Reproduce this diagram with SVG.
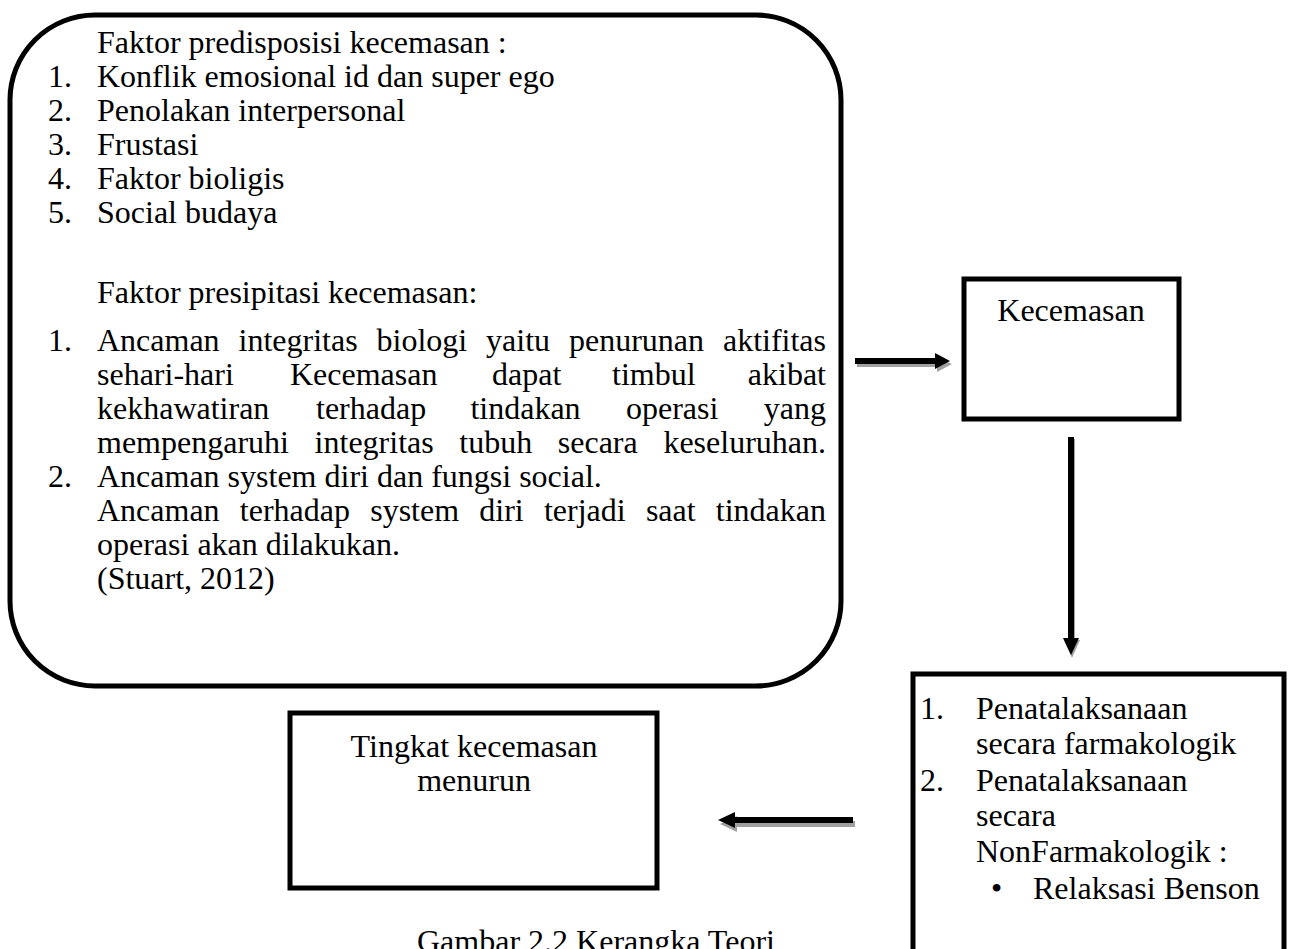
<svg xmlns="http://www.w3.org/2000/svg" width="1290" height="949" viewBox="0 0 1290 949">
<style>
text{font-family:"Liberation Serif","Times New Roman",serif;font-size:32px;fill:#000}
.box{fill:#fff;stroke:#000;stroke-width:5}
.shaft{stroke:#000;stroke-width:6}
.shadow{stroke:#a0a0a0;stroke-width:6}
.c{text-anchor:middle}
.e{text-anchor:end}
</style>
<rect width="1290" height="949" fill="#fff"/>
<g id="faktor">
<rect class="box" x="10" y="15" width="831" height="671" rx="85" ry="85"/>
<text x="97" y="53">Faktor predisposisi kecemasan :</text>
<text x="48" y="87">1.</text><text x="97" y="87">Konflik emosional id dan super ego</text>
<text x="48" y="121">2.</text><text x="97" y="121">Penolakan interpersonal</text>
<text x="48" y="155">3.</text><text x="97" y="155">Frustasi</text>
<text x="48" y="189">4.</text><text x="97" y="189">Faktor bioligis</text>
<text x="48" y="223">5.</text><text x="97" y="223">Social budaya</text>
<text x="97" y="303">Faktor presipitasi kecemasan:</text>
<text x="48" y="351">1.</text>
<text y="351"><tspan x="97">Ancaman</tspan><tspan x="238.5">integritas</tspan><tspan x="376.5">biologi</tspan><tspan x="486.1">yaitu</tspan><tspan x="569">penurunan</tspan></text>
<text class="e" x="826" y="351">aktifitas</text>
<text y="385"><tspan x="97">sehari-hari</tspan><tspan x="290">Kecemasan</tspan><tspan x="492">dapat</tspan><tspan x="612">timbul</tspan></text>
<text class="e" x="826" y="385">akibat</text>
<text y="419"><tspan x="97">kekhawatiran</tspan><tspan x="316">terhadap</tspan><tspan x="470.4">tindakan</tspan><tspan x="626">operasi</tspan></text>
<text class="e" x="826" y="419">yang</text>
<text y="453"><tspan x="97">mempengaruhi</tspan><tspan x="314.6">integritas</tspan><tspan x="459.3">tubuh</tspan><tspan x="557.8">secara</tspan></text>
<text class="e" x="826" y="453">keseluruhan.</text>
<text x="48" y="487">2.</text><text x="97" y="487">Ancaman system diri dan fungsi social.</text>
<text y="521"><tspan x="97">Ancaman</tspan><tspan x="239.8">terhadap</tspan><tspan x="370.2">system</tspan><tspan x="479.3">diri</tspan><tspan x="543.9">terjadi</tspan><tspan x="645.9">saat</tspan></text>
<text class="e" x="826" y="521">tindakan</text>
<text x="97" y="555">operasi akan dilakukan.</text>
<text x="97" y="589">(Stuart, 2012)</text>
</g>
<g id="kecemasan">
<rect class="box" x="964" y="279" width="215" height="140"/>
<text class="c" x="1071" y="321">Kecemasan</text>
</g>
<g id="penatalaksanaan">
<rect class="box" x="913" y="674" width="371" height="290"/>
<text x="920" y="719">1.</text><text x="976" y="719">Penatalaksanaan</text>
<text x="976" y="754">secara farmakologik</text>
<text x="920" y="791">2.</text><text x="976" y="791">Penatalaksanaan</text>
<text x="976" y="826">secara</text>
<text x="976" y="862">NonFarmakologik :</text>
<text x="991" y="899">•</text><text x="1033" y="899">Relaksasi Benson</text>
</g>
<g id="tingkat">
<rect class="box" x="290" y="713" width="367" height="175"/>
<text class="c" x="474" y="757">Tingkat kecemasan</text>
<text class="c" x="474" y="791">menurun</text>
</g>
<g id="connectors">
<line class="shadow" x1="857" y1="364" x2="939" y2="364"/>
<polygon fill="#a0a0a0" points="937,357 952,364 937,372"/>
<line class="shaft" x1="855" y1="361" x2="937" y2="361"/>
<polygon points="935,353 950,361 935,369"/>
<line class="shadow" x1="1072" y1="439" x2="1072" y2="642"/>
<polygon fill="#a0a0a0" points="1064,640 1072,658 1080,640"/>
<line class="shaft" x1="1071" y1="437" x2="1071" y2="640"/>
<polygon points="1063,638 1071,655 1079,638"/>
<line class="shadow" x1="855" y1="824" x2="735" y2="824"/>
<polygon fill="#a0a0a0" points="737,816 720,824 737,832"/>
<line class="shaft" x1="853" y1="820" x2="733" y2="820"/>
<polygon points="735,812 718,820 735,828"/>
</g>
<text id="caption" x="417" y="952">Gambar 2.2 Kerangka Teori</text>
</svg>
